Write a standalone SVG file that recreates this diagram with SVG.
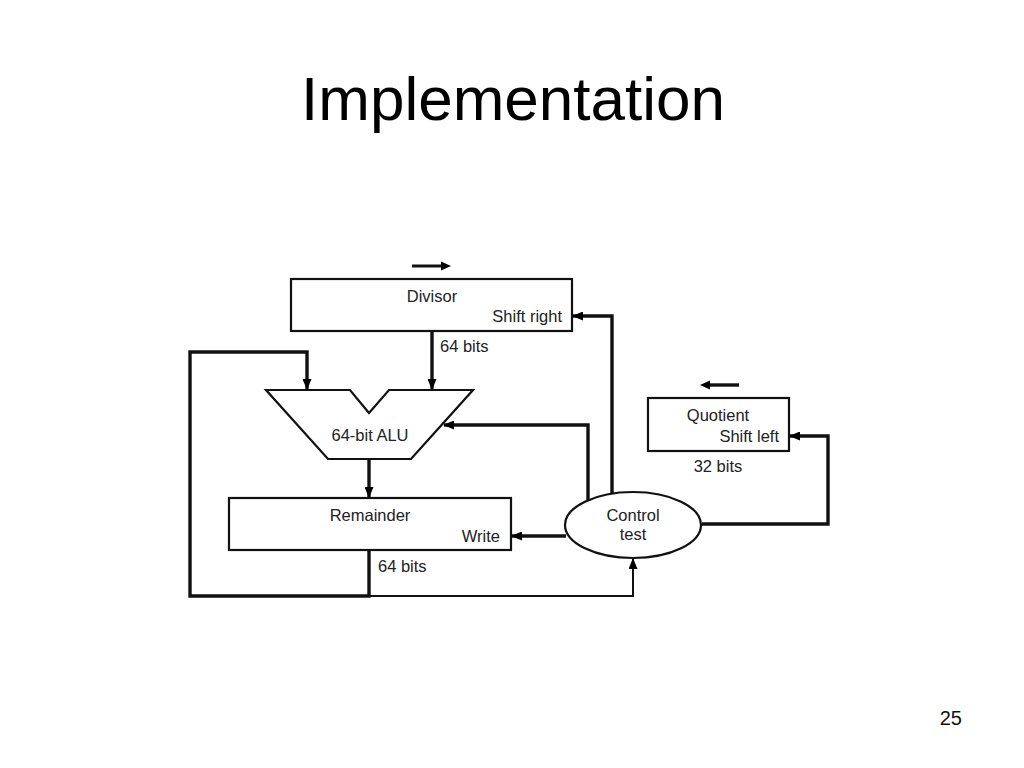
<svg xmlns="http://www.w3.org/2000/svg" width="1024" height="768" viewBox="0 0 1024 768">
<defs>
<marker id="ah" markerUnits="userSpaceOnUse" markerWidth="11" markerHeight="9" refX="10" refY="4.5" orient="auto">
<path d="M0,0 L11,4.5 L0,9 z" fill="#000"/>
</marker>
<style>
.box{fill:#fff;stroke:#111;stroke-width:2.2}
.thick{fill:none;stroke:#111;stroke-width:3.4}
.thin{fill:none;stroke:#111;stroke-width:2}
.lbl{font-family:"Liberation Sans",Arial,sans-serif;font-size:16.5px;fill:#222}
.title{font-family:"Liberation Sans",Arial,sans-serif;font-size:62px;fill:#000}
</style>
</defs>
<rect width="1024" height="768" fill="#fff"/>
<text class="title" x="513" y="120" text-anchor="middle">Implementation</text>
<text x="962" y="725" text-anchor="end" font-family="Liberation Sans, Arial, sans-serif" font-size="20" fill="#111">25</text>

<g id="connectors">
<line class="thick" x1="432" y1="331" x2="432" y2="389" marker-end="url(#ah)"/>
<polyline class="thick" points="369,550 369,596 190,596 190,352 307,352 307,389" marker-end="url(#ah)"/>
<line class="thick" x1="369" y1="459" x2="369" y2="497" marker-end="url(#ah)"/>
<polyline class="thin" points="369,596 633,596 633,559" marker-end="url(#ah)"/>
<polyline class="thick" points="612,494 612,316 573,316" marker-end="url(#ah)"/>
<polyline class="thick" points="588,500 588,425 444,425" marker-end="url(#ah)"/>
<line class="thick" x1="566" y1="536" x2="512" y2="536" marker-end="url(#ah)"/>
<polyline class="thick" points="702,524 828,524 828,436 790,436" marker-end="url(#ah)"/>
</g>

<g id="divisor">
<line x1="412" y1="266" x2="442" y2="266" stroke="#111" stroke-width="3"/>
<path d="M441,261.5 L451,266 L441,270.5 z" fill="#000"/>
<rect class="box" x="291" y="279" width="281" height="52"/>
<text class="lbl" x="432" y="302" text-anchor="middle">Divisor</text>
<text class="lbl" x="562" y="322" text-anchor="end">Shift right</text>
<text class="lbl" x="440" y="352" font-size="17">64 bits</text>
</g>

<g id="alu">
<polygon class="box" points="266,390 350,390 369,413 389,390 473,390 411,459 328,459"/>
<text class="lbl" x="370" y="441" text-anchor="middle">64-bit ALU</text>
</g>

<g id="remainder">
<rect class="box" x="229" y="498" width="282" height="52" stroke-width="2.8"/>
<text class="lbl" x="370" y="521" text-anchor="middle">Remainder</text>
<text class="lbl" x="500" y="542" text-anchor="end">Write</text>
<text class="lbl" x="378" y="572" font-size="17">64 bits</text>
</g>

<g id="control">
<ellipse class="box" cx="633" cy="525" rx="68" ry="33"/>
<text class="lbl" x="633" y="521" text-anchor="middle">Control</text>
<text class="lbl" x="633" y="540" text-anchor="middle">test</text>
</g>

<g id="quotient">
<line x1="709" y1="385" x2="739" y2="385" stroke="#111" stroke-width="3.4"/>
<path d="M710,380.5 L700,385 L710,389.5 z" fill="#000"/>
<rect class="box" x="648" y="398" width="141" height="53"/>
<text class="lbl" x="718" y="421" text-anchor="middle">Quotient</text>
<text class="lbl" x="779" y="442" text-anchor="end">Shift left</text>
<text class="lbl" x="718" y="472" text-anchor="middle" font-size="17">32 bits</text>
</g>
</svg>
